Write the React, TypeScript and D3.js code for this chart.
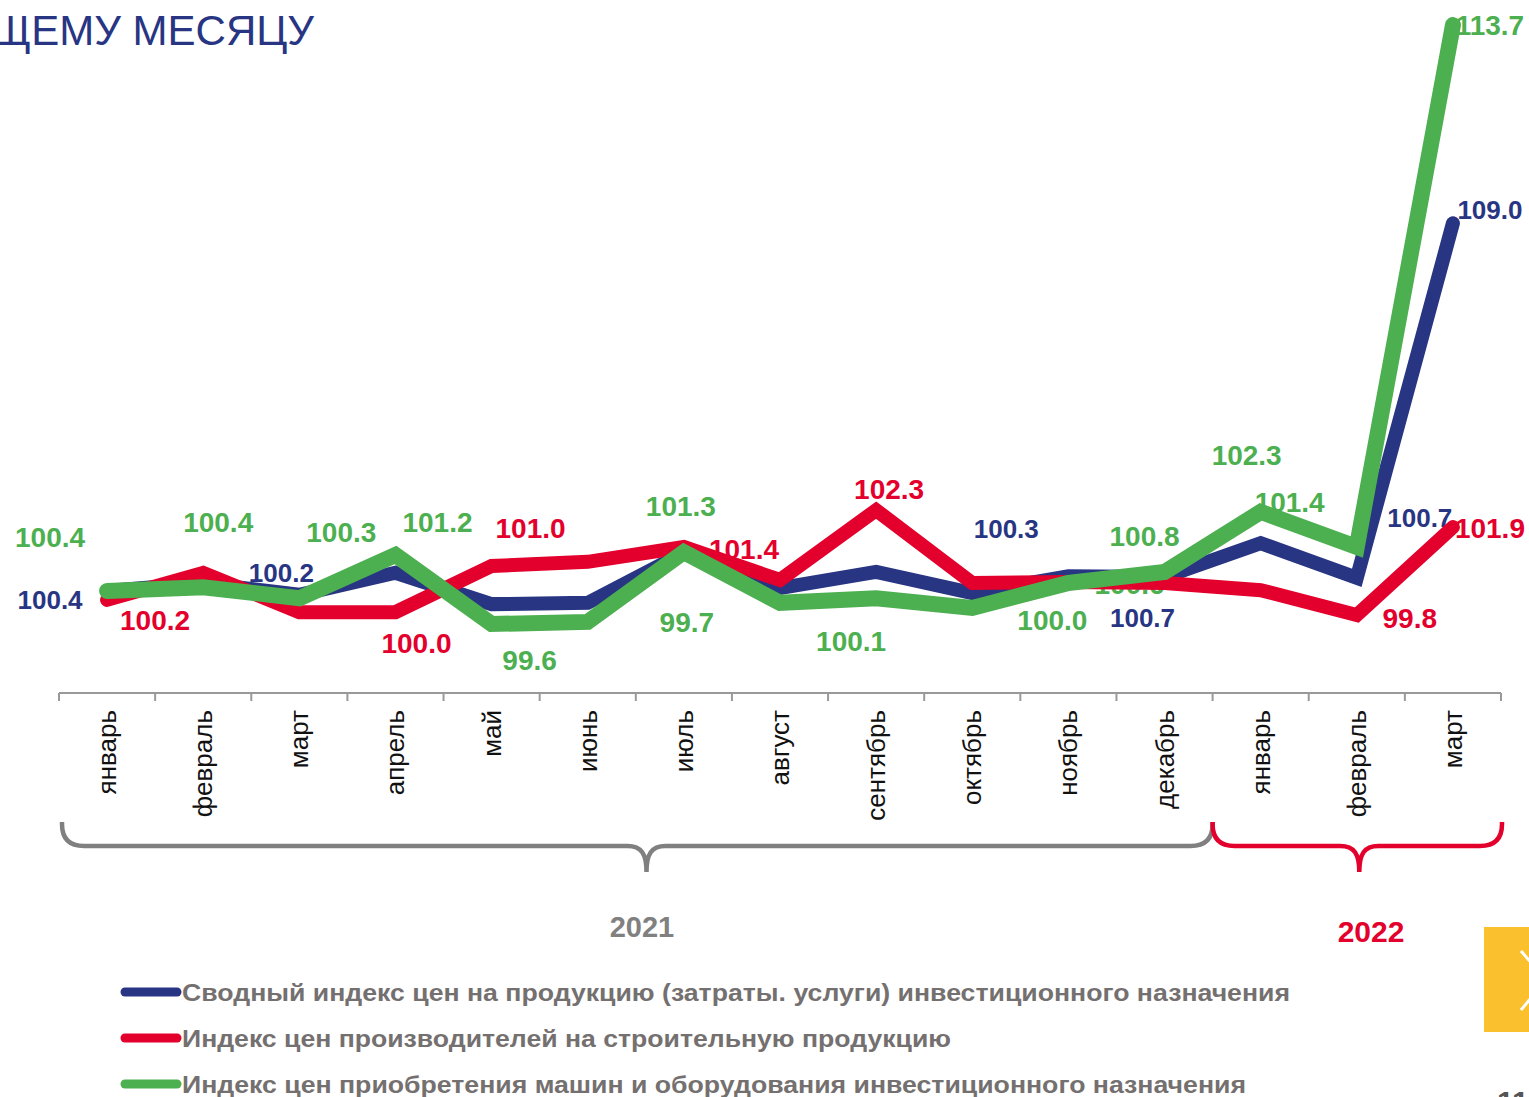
import React from "react";
import * as d3 from "d3";

const months = [
  "январь", "февраль", "март", "апрель", "май", "июнь", "июль", "август",
  "сентябрь", "октябрь", "ноябрь", "декабрь", "январь", "февраль", "март",
];

// plotted values
const blueValues = [100.36, 100.55, 100.27, 100.79, 100.05, 100.08, 101.26, 100.43, 100.81, 100.31, 100.71, 100.69, 101.49, 100.67, 109.05];
const redValues = [100.15, 100.79, 99.86, 99.86, 100.95, 101.05, 101.4, 100.62, 102.27, 100.55, 100.57, 100.55, 100.38, 99.79, 101.87];
const greenValues = [100.36, 100.45, 100.19, 101.21, 99.58, 99.63, 101.28, 100.08, 100.19, 99.96, 100.55, 100.81, 102.23, 101.4, 113.73];

// data labels as printed on the slide: [category index, text]
const blueLabels: [number, string][] = [[0, "100.4"], [2, "100.2"], [9, "100.3"], [11, "100.7"], [13, "100.7"], [14, "109.0"]];
const redLabels: [number, string][] = [[0, "100.2"], [3, "100.0"], [4, "101.0"], [7, "101.4"], [8, "102.3"], [13, "99.8"], [14, "101.9"]];
const greenLabels: [number, string][] = [
  [0, "100.4"], [1, "100.4"], [2, "100.3"], [3, "101.2"], [4, "99.6"], [6, "101.3"], [6, "99.7"],
  [8, "100.1"], [10, "100.0"], [11, "100.6"], [11, "100.8"], [12, "102.3"], [12, "101.4"], [14, "113.7"],
];

// label offsets (px) from their anchor point
const blueOffsets = [[-57, 9], [-18, -22], [34, -64], [-22, 41], [63, -60], [37, -14]];
const redOffsets = [[48, 20], [21, 31], [39, -38], [-36, -31], [13, -21], [53, 3], [37, 1]];
const greenOffsets = [
  [-57, -54], [15, -65], [42, -66], [42, -33], [38, 36], [-3, -46], [3, 70],
  [-25, 43], [-16, 37], [-35, 12], [-20, -36], [-14, -57], [29, -10], [37, 0],
];

const years = ["2021", "2022"];
const yearSpans: [number, number][] = [[0, 11], [12, 14]];

const seriesNames = [
  "Сводный индекс цен на продукцию (затраты. услуги) инвестиционного назначения",
  "Индекс цен производителей на строительную продукцию",
  "Индекс цен приобретения машин и оборудования инвестиционного назначения",
];

const titleText = "ЩЕМУ МЕСЯЦУ";
const pageNumber = "11";

const BLUE = "#283583";
const RED = "#e3002c";
const GREEN = "#4caf50";
const GRAY = "#808080";
const FONT = "'Liberation Sans', Arial, sans-serif";

export default function App() {
  const W = 1529;
  const H = 1097;
  const axisY = 693;

  const x = d3.scaleBand<number>().domain(d3.range(months.length)).range([59, 1501]).paddingInner(0).paddingOuter(0);
  const bw = x.bandwidth();
  const xc = (i: number) => (x(i) as number) + bw / 2;
  const y = d3.scaleLinear().domain([97.95, 114.3]).range([axisY, 1]);

  const line = d3.line<number>().x((_, i) => xc(i)).y((d) => y(d));

  const series = [
    { values: blueValues, color: BLUE, width: 14, labels: blueLabels, offsets: blueOffsets, fs: 26 },
    { values: redValues, color: RED, width: 14, labels: redLabels, offsets: redOffsets, fs: 28 },
    { values: greenValues, color: GREEN, width: 16, labels: greenLabels, offsets: greenOffsets, fs: 28 },
  ];

  const ticks = d3.range(months.length + 1).map((i) => 59 + i * bw);

  const bracePath = (left: number, right: number, tip: number, top: number, mid: number, bottom: number) => {
    const r = 22;
    const c = 19;
    return [
      `M${left},${top} L${left},${top + 2} Q${left},${mid} ${left + r},${mid}`,
      `L${tip - c},${mid} C${tip - 5},${mid} ${tip},${mid + 8} ${tip},${bottom}`,
      `M${tip},${bottom} C${tip},${mid + 8} ${tip + 5},${mid} ${tip + c},${mid}`,
      `L${right - r},${mid} Q${right},${mid} ${right},${top + 2} L${right},${top}`,
    ].join(" ");
  };

  const braces = yearSpans.map(([a, b], k) => {
    const left = (x(a) as number) + (k === 0 ? 3 : 0);
    const right = (x(b) as number) + bw + (k === 0 ? 0 : 1);
    const tip = k === 0 ? left + (right - left) * 0.508 : (left + right) / 2 + 2;
    return { left, right, tip, color: k === 0 ? GRAY : RED, year: years[k] };
  });

  const legendColors = [BLUE, RED, GREEN];
  const legendWidths = [1108, 769, 1064];

  return (
    <svg width={W} height={H} style={{ position: "absolute", left: 0, top: 0, background: "#fff" }} fontFamily={FONT}>
      <rect x={0} y={0} width={W} height={H} fill="#fff" />
      {/* title */}
      <text x={314} y={45} textAnchor="end" fontSize={42} fill={BLUE}>{titleText}</text>

      {/* data labels (beneath lines) */}
      {series.map((s, si) =>
        s.labels.map(([i, t], li) => (
          <text
            key={`l${si}-${li}`}
            x={xc(i) + s.offsets[li][0]}
            y={y(s.values[i]) + s.offsets[li][1]}
            dy="0.36em"
            textAnchor="middle"
            fontSize={s.fs}
            fontWeight="bold"
            fill={s.color}
          >
            {t}
          </text>
        ))
      )}

      {/* axis */}
      <line x1={59} x2={1501} y1={axisY} y2={axisY} stroke="#999" strokeWidth={2} />
      {ticks.map((t, i) => (
        <line key={`t${i}`} x1={t} x2={t} y1={axisY} y2={axisY + 8} stroke="#999" strokeWidth={2} />
      ))}
      {months.map((m, i) => (
        <text
          key={`m${i}`}
          transform={`translate(${xc(i) + 9},710) rotate(-90)`}
          textAnchor="end"
          fontSize={26}
          fill="#111"
        >
          {m}
        </text>
      ))}

      {/* lines */}
      {series.map((s, si) => (
        <path
          key={`s${si}`}
          d={line(s.values) || ""}
          fill="none"
          stroke={s.color}
          strokeWidth={s.width}
          strokeLinejoin="miter"
          strokeMiterlimit={3}
          strokeLinecap="round"
        />
      ))}

      {/* year braces */}
      {braces.map((b, k) => (
        <g key={`b${k}`}>
          <path d={bracePath(b.left, b.right, b.tip, 822, 846, 872)} fill="none" stroke={b.color} strokeWidth={4.5} />
        </g>
      ))}
      <text x={642} y={937} textAnchor="middle" fontSize={29} fontWeight="bold" fill={GRAY}>{years[0]}</text>
      <text x={1371} y={942} textAnchor="middle" fontSize={30} fontWeight="bold" fill={RED}>{years[1]}</text>

      {/* legend */}
      {seriesNames.map((n, i) => (
        <g key={`lg${i}`}>
          <line x1={125} x2={177} y1={992 + i * 46} y2={992 + i * 46} stroke={legendColors[i]} strokeWidth={9} strokeLinecap="round" />
          <text
            x={182}
            y={992 + i * 46}
            dy="0.36em"
            fontSize={24}
            fontWeight="bold"
            fill="#757070"
            textLength={legendWidths[i]}
            lengthAdjust="spacingAndGlyphs"
          >
            {n}
          </text>
        </g>
      ))}

      {/* decorative slide elements */}
      <rect x={1484} y={927} width={50} height={105} fill="#fbc02d" />
      <polyline points="1521,951 1546,980 1521,1010" fill="none" stroke="#fff" strokeWidth={3} />
      <text x={1497} y={1112} fontSize={30} fontWeight="bold" fill="#555">{pageNumber}</text>
    </svg>
  );
}
